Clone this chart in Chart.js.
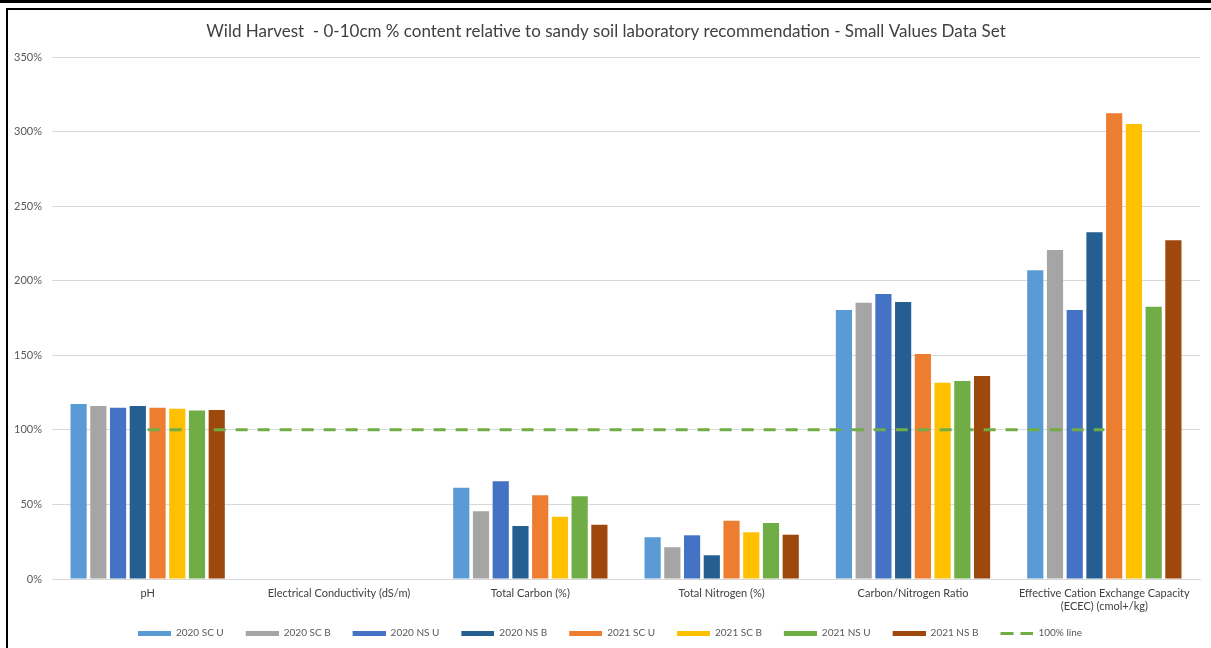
<!DOCTYPE html>
<html>
<head>
<meta charset="utf-8">
<script src="https://cdn.jsdelivr.net/npm/chart.js@4/dist/chart.umd.min.js"></script>
<style>
  html, body { margin: 0; padding: 0; background: #fff; }
  body { width: 1211px; height: 648px; position: relative; overflow: hidden; }
  #wrap { position: absolute; left: 0; top: 0; width: 1211px; height: 648px; }
  .bt { position: absolute; left: 0; top: 0; width: 1211px; height: 3px; background: #000; }
  .bt2 { position: absolute; left: 6px; top: 8px; width: 1205px; height: 2px; background: #000; }
  .bl { position: absolute; left: 6px; top: 8px; width: 2px; height: 640px; background: #000; }
</style>
</head>
<body>
<div id="wrap"><canvas id="c" width="1211" height="648"></canvas></div>
<div class="bt"></div><div class="bt2"></div><div class="bl"></div>
<script>
const categories = [
  "pH",
  "Electrical Conductivity (dS/m)",
  "Total Carbon (%)",
  "Total Nitrogen (%)",
  "Carbon/Nitrogen Ratio",
  ["Effective Cation Exchange Capacity", "(ECEC) (cmol+/kg)"]
];
const seriesNames = ["2020 SC U", "2020 SC B", "2020 NS U", "2020 NS B", "2021 SC U", "2021 SC B", "2021 NS U", "2021 NS B"];
const s2020SCU = [117.3, 0, 61.2, 28.0, 180.4, 207.0];
const s2020SCB = [116.0, 0, 45.4, 21.3, 185.3, 220.6];
const s2020NSU = [114.9, 0, 65.5, 29.3, 191.1, 180.4];
const s2020NSB = [116.0, 0, 35.5, 15.9, 185.7, 232.5];
const s2021SCU = [114.9, 0, 56.1, 39.1, 150.9, 312.3];
const s2021SCB = [114.2, 0, 41.8, 31.3, 131.6, 305.1];
const s2021NSU = [112.9, 0, 55.4, 37.5, 132.8, 182.6];
const s2021NSB = [113.3, 0, 36.4, 29.7, 136.1, 227.1];
const line100 = [100, 100, 100, 100, 100, 100];
const yTicks = [0, 50, 100, 150, 200, 250, 300, 350];

const colors = ["#5B9BD5", "#A5A5A5", "#4472C4", "#255E91", "#ED7D31", "#FFC000", "#70AD47", "#9E480E"];
const lineColor = "#70AD47";
const seriesData = [s2020SCU, s2020SCB, s2020NSU, s2020NSB, s2021SCU, s2021SCB, s2021NSU, s2021NSB];

const FONT = "Lato, 'Noto Sans', sans-serif";
const LEAD = 8; // blank space before each legend swatch

function barSwatch(color) {
  const c = document.createElement('canvas');
  c.width = 33 + LEAD; c.height = 5;
  const g = c.getContext('2d');
  g.fillStyle = color; g.fillRect(LEAD, 0, 33, 5);
  return c;
}
function dashSwatch(color) {
  const c = document.createElement('canvas');
  c.width = 33 + LEAD; c.height = 3;
  const g = c.getContext('2d');
  g.fillStyle = color; g.fillRect(LEAD, 0, 13, 3); g.fillRect(LEAD + 20, 0, 13, 3);
  return c;
}

const datasets = seriesData.map((d, i) => ({
  type: 'bar',
  label: seriesNames[i],
  data: d,
  backgroundColor: colors[i],
  borderWidth: 0,
  categoryPercentage: 0.825,
  barPercentage: 0.82,
  order: 2
}));
datasets.push({
  type: 'line',
  label: '100% line',
  data: line100,
  borderColor: lineColor,
  backgroundColor: lineColor,
  borderWidth: 3,
  borderDash: [12, 10],
  pointRadius: 0,
  fill: false,
  order: 1
});

new Chart(document.getElementById('c'), {
  data: { labels: categories, datasets },
  options: {
    responsive: false,
    animation: false,
    layout: { padding: { left: 12, right: 11, top: 0, bottom: 0 } },
    plugins: {
      title: {
        display: true,
        text: "Wild Harvest  - 0-10cm % content relative to sandy soil laboratory recommendation - Small Values Data Set",
        color: '#404040',
        font: { family: FONT, size: 17, weight: 'normal' },
        padding: { top: 21, bottom: 15.6 }
      },
      legend: {
        position: 'bottom',
        labels: {
          color: '#595959',
          font: { family: FONT, size: 10 },
          usePointStyle: true,
          pointStyleWidth: 33 + LEAD,
          boxWidth: 33 + LEAD,
          boxHeight: 5,
          padding: 14,
          generateLabels(chart) {
            const items = Chart.defaults.plugins.legend.labels.generateLabels(chart);
            items.sort((a, b) => a.datasetIndex - b.datasetIndex);
            items.forEach(it => {
              it.lineWidth = 0;
              it.pointStyle = it.datasetIndex < colors.length ? barSwatch(colors[it.datasetIndex]) : dashSwatch(lineColor);
            });
            return items;
          }
        }
      },
      tooltip: { enabled: false }
    },
    scales: {
      x: {
        grid: { display: false, drawTicks: false },
        border: { display: true, color: '#d9d9d9' },
        ticks: { color: '#404040', font: { family: FONT, size: 11 }, padding: 8, maxRotation: 0, autoSkip: false },
        afterFit(s) { s.height = 35; }
      },
      y: {
        min: 0, max: 350,
        afterBuildTicks(s) { s.ticks = yTicks.map(v => ({ value: v })); },
        grid: { color: '#d9d9d9', drawTicks: false },
        border: { display: false },
        ticks: { color: '#595959', font: { family: FONT, size: 11 }, padding: 10, callback: v => v + '%' },
        afterFit(s) { s.width = 40; }
      }
    }
  }
});
</script>
</body>
</html>
